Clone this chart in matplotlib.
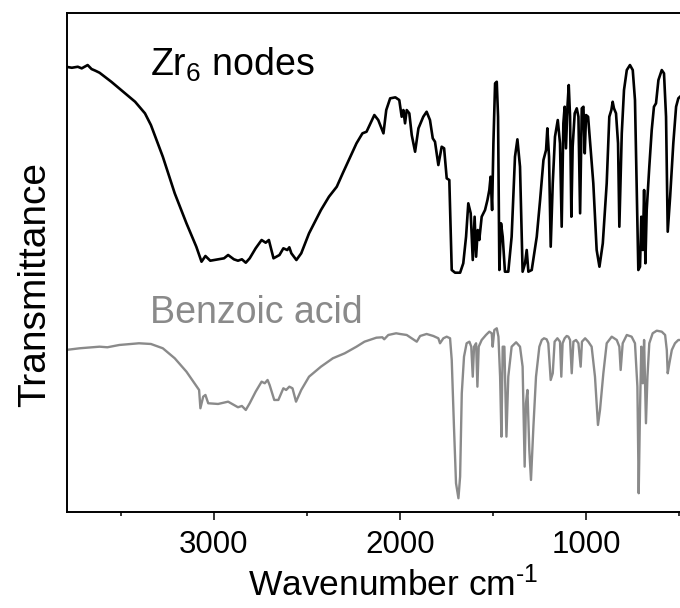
import matplotlib
matplotlib.use("Agg")
import matplotlib.pyplot as plt
from matplotlib.ticker import MultipleLocator

plt.rcParams['font.family'] = ['Liberation Sans', 'DejaVu Sans']
plt.rcParams['mathtext.fontset'] = 'custom'
plt.rcParams['mathtext.rm'] = 'Liberation Sans'
plt.rcParams['mathtext.it'] = 'Liberation Sans:italic'

# Zr6 nodes spectrum (wavenumber, offset transmittance)
zr_wn = [3796, 3764, 3732, 3711, 3679, 3658, 3637, 3615, 3552, 3488, 3424, 3371, 3339, 3275,
         3211, 3148, 3095, 3067, 3046, 3020, 2978, 2946, 2924, 2893, 2871, 2850, 2829, 2808,
         2776, 2744, 2722, 2705, 2680, 2648, 2627, 2606, 2595, 2584, 2557, 2531, 2489, 2425,
         2382, 2340, 2308, 2265, 2234, 2202, 2180, 2159, 2138, 2117, 2089, 2074, 2053, 2025,
         2004, 1991, 1982, 1973, 1964, 1950, 1937, 1919, 1901, 1875, 1857, 1839, 1824, 1812,
         1794, 1776, 1763, 1749, 1735, 1722, 1704, 1677, 1660, 1645, 1633, 1620, 1609, 1599,
         1591, 1582, 1574, 1561, 1543, 1530, 1520, 1513, 1505, 1498, 1489, 1480, 1473, 1466,
         1457, 1448, 1436, 1418, 1400, 1382, 1369, 1355, 1341, 1328, 1319, 1310, 1292, 1265,
         1247, 1229, 1215, 1208, 1199, 1190, 1179, 1167, 1152, 1140, 1131, 1122, 1115, 1108,
         1100, 1093, 1086, 1079, 1072, 1061, 1050, 1041, 1032, 1023, 1014, 1007, 1000, 989,
         979, 961, 943, 928, 910, 889, 875, 864, 857, 850, 839, 828, 821, 808, 796, 781, 764,
         749, 737, 728, 719, 710, 703, 695, 688, 681, 674, 660, 647, 635, 624, 611, 593, 581,
         570, 561, 548, 531, 516, 504, 495]
zr_t = [445.3, 444.3, 445.3, 443.7, 447, 443, 441.3, 439.3, 430.3, 420.3, 410.3, 398.7, 387,
        355.3, 318.7, 288.7, 265.3, 250.3, 256, 251.3, 252.7, 253.7, 257, 252.7, 251.3, 252.7,
        249.3, 253.7, 263.7, 272, 269.3, 272, 253.7, 257, 263.7, 262, 264.7, 258.7, 252, 258.7,
        278.7, 302, 315.3, 325.3, 338.7, 356, 368.7, 378.7, 380.3, 388.7, 397, 392, 378.7, 402,
        413.7, 414.7, 412, 395.3, 402, 388.7, 402, 398.7, 377, 360.3, 383.7, 395.3, 400.3, 392,
        373.7, 370.3, 347, 365.3, 363.7, 333.7, 332, 242, 239.3, 239.3, 248.7, 275.3, 308.7,
        298.7, 252, 295.3, 255.3, 282, 272, 295.3, 302, 312, 322, 335.3, 302, 368.7, 428.7,
        430.3, 395.3, 242, 288.7, 275.3, 240.3, 240.3, 275.3, 355.3, 372.7, 345.3, 240.3, 248.7,
        262, 240.3, 242, 275.3, 312, 352, 362, 383.7, 355.3, 265.3, 328.7, 375.3, 392, 368.7,
        285.3, 388.7, 405.3, 363.7, 405.3, 427, 395.3, 295.3, 365.3, 398.7, 403.7, 395.3, 298.7,
        403.7, 405.3, 358.7, 397, 395.3, 372, 328.7, 262, 245.3, 268.7, 328.7, 395.3, 402, 410.3,
        403.7, 398.7, 368.7, 285.3, 378.7, 422, 442, 447, 442, 412, 328.7, 242, 245.3, 295.3,
        262, 322, 248.7, 302, 345.3, 382, 405.3, 408.7, 432, 442, 438.7, 395.3, 280.3, 315.3,
        368.7, 405.3, 413.7, 415.3]

# Benzoic acid spectrum
ba_wn = [3796, 3722, 3615, 3573, 3509, 3403, 3339, 3275, 3211, 3148, 3105, 3080, 3073, 3058,
         3046, 3031, 2978, 2924, 2893, 2871, 2850, 2829, 2808, 2776, 2744, 2727, 2712, 2701,
         2676, 2654, 2627, 2612, 2595, 2578, 2559, 2531, 2489, 2425, 2361, 2297, 2234, 2191,
         2127, 2095, 2085, 2063, 2021, 2000, 1964, 1937, 1910, 1892, 1857, 1821, 1794, 1785,
         1767, 1749, 1731, 1722, 1710, 1699, 1686, 1677, 1668, 1656, 1642, 1627, 1617, 1609,
         1602, 1591, 1584, 1577, 1561, 1538, 1520, 1507, 1502, 1493, 1480, 1471, 1462, 1455,
         1448, 1439, 1428, 1418, 1400, 1376, 1355, 1341, 1330, 1323, 1315, 1305, 1296, 1283,
         1269, 1251, 1238, 1226, 1212, 1203, 1190, 1179, 1169, 1154, 1140, 1133, 1126, 1115,
         1104, 1095, 1086, 1077, 1068, 1054, 1041, 1029, 1022, 1005, 988, 970, 952, 936, 925,
         907, 889, 862, 835, 821, 814, 803, 781, 755, 737, 724, 717, 710, 703, 695, 688, 678,
         670, 660, 642, 620, 593, 575, 566, 561, 552, 539, 522, 504, 495]
ba_t = [162, 163.7, 165.3, 164.7, 167, 168.7, 168, 163.7, 153.7, 140.3, 128.7, 122, 103.7, 115.3,
        117, 108.7, 108, 110.3, 107, 104.7, 106, 102, 108.7, 120.3, 130.3, 128.7, 132, 127, 112,
        112, 123.7, 122, 125.3, 123.7, 110.3, 122, 135.3, 145.3, 153.7, 158.7, 165.3, 170.3,
        174.3, 174.7, 172.7, 177, 178.7, 178, 177, 173.7, 170.3, 176, 178, 176, 173.7, 168.7,
        173.7, 175.3, 173.7, 152, 85.3, 28.7, 13.7, 35.3, 118.7, 155.3, 168.7, 170.3, 165.3,
        135.3, 165.3, 168.7, 125.3, 165.3, 172, 177, 180.3, 178.7, 165.3, 182, 183.7, 175.3,
        135.3, 75.3, 165.3, 165.3, 75.3, 135.3, 165.3, 169.7, 165.3, 145.3, 45.3, 108.7, 122,
        62, 32, 85.3, 135.3, 165.3, 172, 173.7, 172.7, 168.7, 132, 138.7, 170.3, 173.7, 170.3,
        135.3, 168.7, 173.7, 176, 175.3, 172, 138.7, 170.3, 172, 168.7, 145.3, 170.3, 173.7,
        170.3, 165.3, 135.3, 87, 102, 138.7, 168.7, 175.3, 172, 165.3, 142, 168.7, 177, 175.3,
        168.7, 125.3, 18.7, 102, 165.3, 128.7, 172, 88.7, 135.3, 168.7, 178.7, 181.3, 180.3,
        177, 162, 138.7, 148.7, 162, 168.7, 172, 172]

fig = plt.figure(figsize=(6.8, 6.08), dpi=100)
ax = fig.add_axes([0.098, 0.158, 0.902, 0.821])

ax.plot(zr_wn, zr_t, color='black', lw=1.9, solid_joinstyle='round')
ax.plot(ba_wn, ba_t, color='#8a8a8a', lw=1.7, solid_joinstyle='round')

ax.text(3344, 436, 'Zr$_{\\mathregular{6}}$ nodes', fontsize=27, va='baseline', ha='left')
ax.text(3344, 189, 'Benzoic acid', fontsize=27, color='#8a8a8a', va='baseline', ha='left')

ax.set_xlim(3792, 495)
ax.set_ylim(0, 499.3)
ax.xaxis.set_major_locator(MultipleLocator(1000))
ax.xaxis.set_minor_locator(MultipleLocator(500))
ax.set_yticks([])
ax.tick_params(axis='x', which='major', length=6, width=1.1, labelsize=22.5, pad=7)
ax.tick_params(axis='x', which='minor', length=3, width=1.1)
for s in ['left', 'top', 'bottom']:
    ax.spines[s].set_linewidth(1.4)
ax.spines['right'].set_visible(False)

ax.set_xlabel('Wavenumber cm$^{\\mathregular{\u2010}1}$', fontsize=25.5)
ax.xaxis.set_label_coords(0.532, -0.109)
ax.set_ylabel('Transmittance', fontsize=28)
ax.yaxis.set_label_coords(-0.022, 0.455)

fig.savefig('out.png', dpi=100)
